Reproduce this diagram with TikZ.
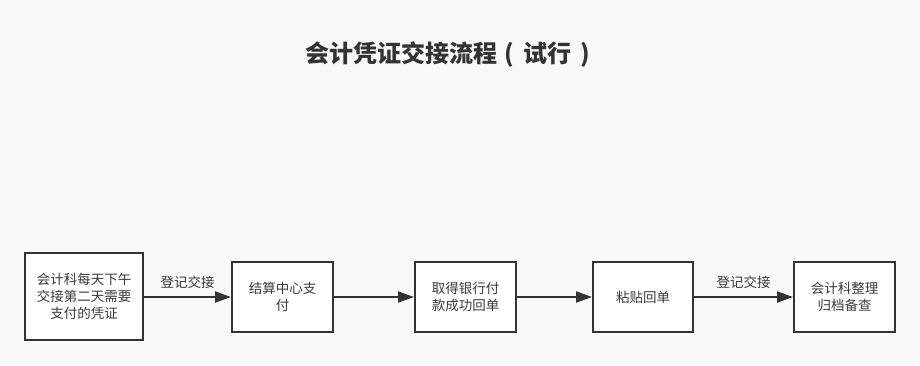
\documentclass[tikz,border=0pt]{standalone}
\usepackage{fontspec}
\setmainfont{Noto Sans CJK SC}
\newfontfamily\cjk{Noto Sans CJK SC}
\usetikzlibrary{arrows.meta}
\definecolor{bgc}{HTML}{F9F9F9}
\definecolor{ink}{HTML}{333333}
\definecolor{txt}{HTML}{3A3A3A}
\begin{document}
\begin{tikzpicture}[x=1pt,y=-1pt,
  stepbox/.style={draw=ink,line width=2pt,fill=white,align=center,text=txt,
     font=\cjk\fontsize{13.5}{17}\selectfont,inner sep=0pt},
  conn/.style={draw=ink,line width=2pt,-{Triangle[length=16pt,width=11pt]}},
  lbl/.style={text=txt,font=\cjk\fontsize{13.5}{17}\selectfont}]
\fill[bgc] (0,0) rectangle (920,365);
\useasboundingbox (0,0) rectangle (920,365);
\node[text=ink,font=\cjk\bfseries\fontsize{24}{28}\selectfont] (title) at (448,55) {会计凭证交接流程\hspace{7pt}(\hspace{9pt}试行\hspace{9pt})};
\node[stepbox,minimum width=118pt,minimum height=87pt] (b1) at (84,296.5) {会计科每天下午\\交接第二天需要\\支付的凭证};
\node[stepbox,minimum width=101pt,minimum height=70pt] (b2) at (282.5,297) {结算中心支\\付};
\node[stepbox,minimum width=101pt,minimum height=70pt] (b3) at (465.5,297) {取得银行付\\款成功回单};
\node[stepbox,minimum width=100pt,minimum height=70pt] (b4) at (643,297) {粘贴回单};
\node[stepbox,minimum width=101pt,minimum height=70pt] (b5) at (844.5,297) {会计科整理\\归档备查};
\draw[conn] (b1.east |- 0,297) -- (b2.west |- 0,297) node[lbl,midway,above=4pt] {登记交接};
\draw[conn] (b2) -- (b3);
\draw[conn] (b3) -- (b4);
\draw[conn] (b4) -- (b5) node[lbl,midway,above=4pt] {登记交接};
\end{tikzpicture}
\end{document}
